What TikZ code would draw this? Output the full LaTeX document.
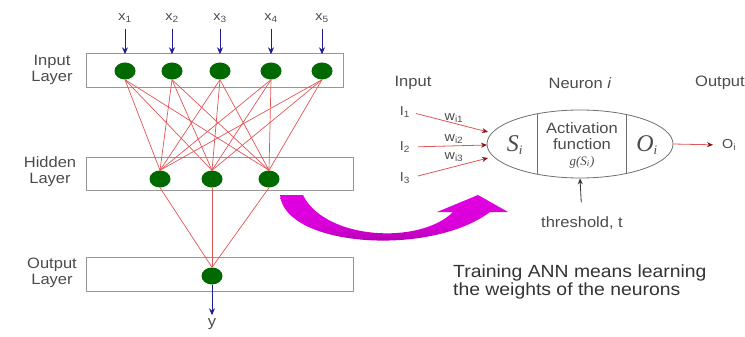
\documentclass[tikz,border=0pt]{standalone}
\usepackage{fontspec}
\setmainfont{Liberation Sans}[FakeStretch=1.1]
\newfontfamily\seriff{Liberation Serif}
\usetikzlibrary{shapes.geometric,arrows.meta}
\definecolor{nodegreen}{RGB}{0,105,0}
\definecolor{linered}{RGB}{225,85,85}
\definecolor{tipred}{RGB}{130,20,20}
\definecolor{arrowblue}{RGB}{30,30,150}
\definecolor{boxgray}{RGB}{150,150,150}
\definecolor{ellgray}{RGB}{110,110,110}
\definecolor{magcol}{RGB}{225,0,225}
\definecolor{magdark}{RGB}{140,0,140}
\definecolor{txtgray}{RGB}{75,75,75}
\begin{document}
\begin{tikzpicture}[x=1pt,y=-1pt,
  layerbox/.style={draw=boxgray, line width=0.8pt, inner sep=0pt},
  neuron/.style={ellipse, fill=nodegreen, minimum width=21pt, minimum height=17pt, inner sep=0pt},
  lbl/.style={font=\fontsize{15}{16}\selectfont, text=txtgray, inner sep=0pt},
  smalllbl/.style={font=\fontsize{13}{14}\selectfont, text=txtgray, inner sep=0pt},
  wire/.style={draw=linered, line width=0.7pt},
  bluearrow/.style={draw=arrowblue, line width=1pt, -{Stealth[length=7pt,width=6pt]}},
  redarrow/.style={draw=linered, line width=0.8pt, -{Stealth[length=6pt,width=5pt,color=tipred]}},
  blackarrow/.style={draw=black!80, line width=0.8pt, -{Stealth[length=6pt,width=5pt]}}
]
\useasboundingbox (0,0) rectangle (745,337);

% ---------- left network ----------
\node[layerbox, minimum width=257pt, minimum height=34pt] (inbox) at (214.5,70) {};
\node[layerbox, minimum width=267pt, minimum height=33pt] (hidbox) at (219.5,173.5) {};
\node[layerbox, minimum width=267pt, minimum height=34pt] (outbox) at (219.5,274) {};

\node[lbl, align=center] (inlbl) at (52,70) {Input\\Layer};
\node[lbl, align=center] (hidlbl) at (50,172) {Hidden\\Layer};
\node[lbl, align=center] (outlbl) at (52,273) {Output\\Layer};

\foreach \n/\x in {1/125,2/172,3/220,4/271,5/322}{
  \node[smalllbl] (x\n) at (\x,18) {x\textsubscript{\n}};
  \node[neuron] (i\n) at (\x,71) {};
}
\foreach \n/\x in {1/160,2/212,3/269}{
  \node[neuron] (h\n) at (\x,179) {};
}
\node[neuron] (o1) at (212,276) {};
\node[lbl] (yout) at (212,324) {y};

\foreach \n in {1,...,5}{
  \draw[bluearrow, shorten <=6pt, shorten >=8pt] (x\n.south) -- (i\n.north);
  \foreach \h in {1,2,3}{
    \draw[wire] (i\n.south) -- (h\h.north);
  }
}
\foreach \h in {1,2,3}{
  \draw[wire] (h\h.south) -- (o1.north);
}
\draw[bluearrow, shorten >=3pt] (o1.south) -- (yout.north);

% ---------- magenta curved arrow ----------
\shade[top color=magcol, bottom color=magdark, middle color=magcol!90!magdark]
  (280,195) .. controls (285,247) and (430,257) .. (490,212)
  -- (508,212) -- (478,195) -- (437,212) -- (453,212)
  .. controls (420,245) and (325,240) .. (303,195) -- cycle;

% ---------- right neuron ----------
\node[lbl] (inlab) at (413,83) {Input};
\node[lbl] (neulab) at (580,83) {Neuron \textit{i}};
\node[lbl, anchor=west] (outlab) at (695,83) {Output};

\node[draw=ellgray, line width=0.8pt, ellipse, minimum width=186pt, minimum height=68pt, inner sep=0pt] (cell) at (580,144) {};
\begin{scope}
  \clip (580,144) ellipse [x radius=93pt, y radius=34pt];
  \draw[ellgray, line width=0.8pt] (537,100) -- (537,190);
  \draw[ellgray, line width=0.8pt] (626,100) -- (626,190);
\end{scope}

\node[inner sep=0pt, text=txtgray] (si) at (515,145) {\fontsize{24}{24}\selectfont\seriff\itshape S\textsubscript{\fontsize{13}{13}\selectfont i}};
\node[lbl, align=center] (act) at (582,145) {Activation\\function\\{\seriff\itshape\fontsize{13}{16}\selectfont g(S\textsubscript{i})}};
\node[inner sep=0pt, text=txtgray] (oi) at (647,145) {\fontsize{24}{24}\selectfont\seriff\itshape O\textsubscript{\fontsize{13}{13}\selectfont i}};

\node[smalllbl] (I1) at (405,112) {I\textsubscript{1}};
\node[smalllbl] (I2) at (405,147) {I\textsubscript{2}};
\node[smalllbl] (I3) at (405,178) {I\textsubscript{3}};
\coordinate (e1) at (488,132);
\coordinate (e2) at (487,145);
\coordinate (e3) at (488,158);
\draw[redarrow, shorten <=6pt] (I1.east) -- (e1);
\draw[redarrow, shorten <=8pt] (I2.east) -- (e2);
\draw[redarrow, shorten <=8pt] (I3.east) -- (e3);
\node[smalllbl] (w1) at (454,118) {w\textsubscript{i1}};
\node[smalllbl] (w2) at (454,139) {w\textsubscript{i2}};
\node[smalllbl] (w3) at (454,157) {w\textsubscript{i3}};

\node[smalllbl, anchor=west] (oout) at (722,145) {O\textsubscript{i}};
\draw[redarrow, shorten >=9pt] (cell.east) -- (oout.west);

\node[lbl] (thr) at (582,223) {threshold, t};
\draw[blackarrow, shorten <=14pt] (thr.north) -- (cell.south);

\node[lbl, anchor=north west, align=left, font=\fontsize{17.6}{18}\selectfont, text=black!80] (train) at (453,265) {Training ANN means learning\\the weights of the neurons};
\end{tikzpicture}
\end{document}
